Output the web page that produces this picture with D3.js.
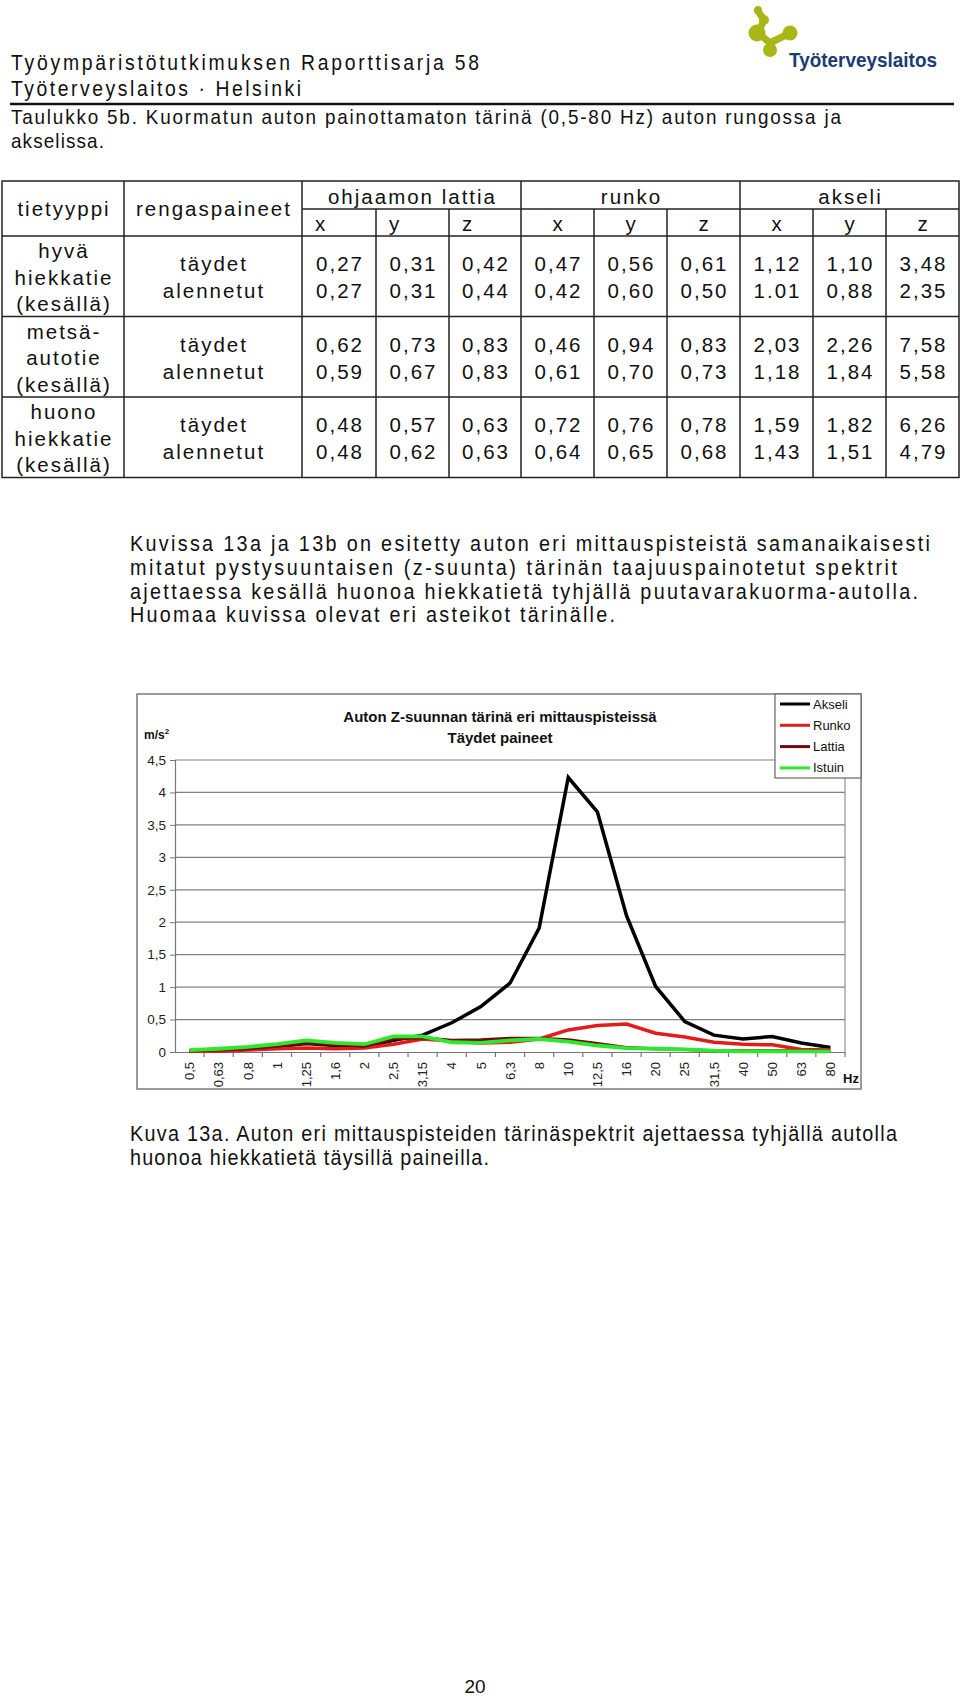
<!DOCTYPE html>
<html><head><meta charset="utf-8">
<script src="https://cdn.jsdelivr.net/npm/d3@7"></script>
<style>
html,body{margin:0;padding:0;background:#fff;}
svg{display:block;}
</style></head>
<body>
<script>
// ---------- DATA ----------
const freqLabels = ["0,5","0,63","0,8","1","1,25","1,6","2","2,5","3,15","4","5","6,3","8","10","12,5","16","20","25","31,5","40","50","63","80"];
const akseli = [0.02,0.03,0.05,0.08,0.13,0.10,0.08,0.18,0.26,0.45,0.70,1.06,1.91,4.23,3.70,2.10,1.01,0.47,0.26,0.20,0.24,0.14,0.07];
const runko  = [0.01,0.01,0.03,0.05,0.06,0.05,0.06,0.12,0.20,0.17,0.14,0.15,0.20,0.34,0.41,0.43,0.29,0.23,0.15,0.12,0.11,0.04,0.03];
const lattia = [0.02,0.03,0.05,0.09,0.14,0.11,0.09,0.20,0.22,0.18,0.19,0.21,0.21,0.19,0.13,0.07,0.05,0.04,0.02,0.02,0.02,0.02,0.02];
const istuin = [0.03,0.05,0.08,0.12,0.18,0.14,0.12,0.24,0.24,0.15,0.14,0.18,0.20,0.16,0.10,0.06,0.05,0.04,0.02,0.01,0.01,0.01,0.01];
const seriesNames = ["Akseli","Runko","Lattia","Istuin"];
const yTicks = [0,0.5,1,1.5,2,2.5,3,3.5,4,4.5];

const roadTypes = [["hyvä","hiekkatie","(kesällä)"],["metsä-","autotie","(kesällä)"],["huono","hiekkatie","(kesällä)"]];
const pressures = ["täydet","alennetut"];
const groups = ["ohjaamon lattia","runko","akseli"];
const axesLabels = ["x","y","z"];
// each row: 9 columns (lattia x,y,z, runko x,y,z, akseli x,y,z), [täydet, alennetut]
const tableRows = [
  [["0,27","0,27"],["0,31","0,31"],["0,42","0,44"],["0,47","0,42"],["0,56","0,60"],["0,61","0,50"],["1,12","1.01"],["1,10","0,88"],["3,48","2,35"]],
  [["0,62","0,59"],["0,73","0,67"],["0,83","0,83"],["0,46","0,61"],["0,94","0,70"],["0,83","0,73"],["2,03","1,18"],["2,26","1,84"],["7,58","5,58"]],
  [["0,48","0,48"],["0,57","0,62"],["0,63","0,63"],["0,72","0,64"],["0,76","0,65"],["0,78","0,68"],["1,59","1,43"],["1,82","1,51"],["6,26","4,79"]]
];

const paragraph = [
  "Kuvissa 13a ja 13b on esitetty auton eri mittauspisteistä samanaikaisesti",
  "mitatut pystysuuntaisen (z-suunta) tärinän taajuuspainotetut spektrit",
  "ajettaessa kesällä huonoa hiekkatietä tyhjällä puutavarakuorma-autolla.",
  "Huomaa kuvissa olevat eri asteikot tärinälle."
];
const caption = [
  "Kuva 13a. Auton eri mittauspisteiden tärinäspektrit ajettaessa tyhjällä autolla",
  "huonoa hiekkatietä täysillä paineilla."
];

// ---------- DRAW ----------
const W = 960, H = 1699;
const svg = d3.select("body").append("svg").attr("width", W).attr("height", H)
  .style("font-family", "'Liberation Sans', Arial, Helvetica, sans-serif");

// narrow text (glyphs compressed horizontally, spacing fills the width)
function line(t, x, y, size, len, opts = {}) {
  const sx = opts.sx || 0.9;
  const g = svg.append("g").attr("transform", `translate(${x},${y}) scale(${sx},1)`);
  const el = g.append("text").attr("x", 0).attr("y", 0).attr("font-size", size)
    .attr("fill", opts.fill || "#111").text(t);
  if (len) el.attr("textLength", len / sx).attr("lengthAdjust", opts.adj || "spacing");
  if (opts.weight) el.attr("font-weight", opts.weight);
  return el;
}

// Header
line("Työympäristötutkimuksen Raporttisarja 58", 11, 70, 22, 468, {sx: 0.88});
line("Työterveyslaitos · Helsinki", 11, 96, 22, 290, {sx: 0.88});
svg.append("line").attr("x1", 10).attr("x2", 954).attr("y1", 104).attr("y2", 104)
  .attr("stroke", "#111").attr("stroke-width", 2.5);
line("Taulukko 5b. Kuormatun auton painottamaton tärinä (0,5-80 Hz) auton rungossa ja", 11, 124, 21, 830);
line("akselissa.", 11, 148, 21, 93);

// Logo
const logoC = "#a8b718";
const lg = svg.append("g");
lg.append("path").attr("d", "M758,11 L764,20 L758,33 L770,43 L790,33 M770,43 L770,50")
  .attr("fill", "none").attr("stroke", logoC).attr("stroke-width", 7).attr("stroke-linecap", "round").attr("stroke-linejoin", "round");
[[758,10,4],[764,20,5],[757,33,8.5],[790,33,7.5],[770,50,7]].forEach(c =>
  lg.append("circle").attr("cx", c[0]).attr("cy", c[1]).attr("r", c[2]).attr("fill", logoC));
line("Työterveyslaitos", 789, 67, 21, 148, {fill: "#1c3b74", weight: "bold", sx: 0.9, adj: "spacingAndGlyphs"});

// Table
const colX = [2,124,302,376,449,521,594,667,740,813,886,959];
const tTop = 181, tGroup = 209, tHead = 236, rowH = 80.5;
const tBottom = tHead + rowH * 3;
const tg = svg.append("g").attr("stroke", "#222").attr("stroke-width", 1.5);
tg.append("rect").attr("x", colX[0]).attr("y", tTop).attr("width", colX[11] - colX[0]).attr("height", tBottom - tTop).attr("fill", "none");
[1,2,5,8].forEach(i => tg.append("line").attr("x1", colX[i]).attr("x2", colX[i]).attr("y1", tTop).attr("y2", tBottom));
[3,4,6,7,9,10].forEach(i => tg.append("line").attr("x1", colX[i]).attr("x2", colX[i]).attr("y1", tGroup).attr("y2", tBottom));
tg.append("line").attr("x1", colX[2]).attr("x2", colX[11]).attr("y1", tGroup).attr("y2", tGroup);
for (let r = 0; r < 3; r++) {
  const y = tHead + r * rowH;
  tg.append("line").attr("x1", colX[0]).attr("x2", colX[11]).attr("y1", y).attr("y2", y);
}
const tt = svg.append("g").attr("font-size", 20.5).attr("fill", "#111").style("letter-spacing", "2px");
function tcell(t, x, y, anchor = "middle") {
  tt.append("text").attr("x", x).attr("y", y).attr("text-anchor", anchor).text(t);
}
tcell("tietyyppi", (colX[0] + colX[1]) / 2 + 1, 216);
tcell("rengaspaineet", (colX[1] + colX[2]) / 2 + 1, 216);
groups.forEach((g, i) => tcell(g, (colX[2 + i * 3] + colX[5 + i * 3]) / 2 + 1, 204));
for (let c = 0; c < 9; c++) {
  if (c < 3) tcell(axesLabels[c % 3], colX[2 + c] + 13, 231, "start");
  else tcell(axesLabels[c % 3], (colX[2 + c] + colX[3 + c]) / 2 + 1, 231);
}
roadTypes.forEach((lines, r) => {
  const y0 = tHead + r * rowH;
  lines.forEach((t, k) => tcell(t, (colX[0] + colX[1]) / 2 + 1, y0 + 22 + k * 26.5));
  pressures.forEach((p, k) => tcell(p, (colX[1] + colX[2]) / 2 + 1, y0 + 35 + k * 27));
  tableRows[r].forEach((vals, c) => vals.forEach((v, k) =>
    tcell(v, (colX[2 + c] + colX[3 + c]) / 2 + 1, y0 + 35 + k * 27)));
});

// Paragraph
const paraLens = [800, 767, 788, 485];
paragraph.forEach((t, i) => line(t, 130, 551 + i * 23.8, 22, paraLens[i]));

// ---------- CHART ----------
const plot = {left: 175, right: 845, top: 760, bottom: 1052};
svg.append("rect").attr("x", 137).attr("y", 694).attr("width", 724).attr("height", 395)
  .attr("fill", "#fff").attr("stroke", "#7a7a7a").attr("stroke-width", 1.5);

const x = d3.scaleBand().domain(freqLabels).range([plot.left, plot.right]).padding(0);
const y = d3.scaleLinear().domain([0, 4.5]).range([plot.bottom, plot.top]);

// gridlines
svg.append("g").selectAll("line").data(yTicks.filter(d => d > 0)).join("line")
  .attr("x1", plot.left).attr("x2", plot.right).attr("y1", d => y(d)).attr("y2", d => y(d))
  .attr("stroke", "#808080").attr("stroke-width", 1.2);
svg.append("line").attr("x1", plot.right).attr("x2", plot.right).attr("y1", plot.top).attr("y2", plot.bottom)
  .attr("stroke", "#909090").attr("stroke-width", 1.2);

// y axis
const yAxis = svg.append("g").attr("transform", `translate(${plot.left},0)`)
  .call(d3.axisLeft(y).tickValues(yTicks).tickSize(5).tickPadding(4)
    .tickFormat(d => String(d).replace(".", ",")));
yAxis.select(".domain").attr("stroke", "#777").attr("stroke-width", 1.2);
yAxis.selectAll(".tick line").attr("stroke", "#777");
yAxis.selectAll(".tick text").attr("font-size", 13.5).attr("fill", "#222")
  .attr("font-family", "'Liberation Sans', Arial, sans-serif");

// x axis
const xAxis = svg.append("g").attr("transform", `translate(0,${plot.bottom})`)
  .call(d3.axisBottom(x).tickSize(0).tickFormat(d => d));
xAxis.select(".domain").attr("stroke", "#777").attr("stroke-width", 1.2);
xAxis.selectAll(".tick text").attr("font-size", 13).attr("fill", "#222")
  .attr("font-family", "'Liberation Sans', Arial, sans-serif")
  .attr("text-anchor", "end").attr("transform", "translate(0,10) rotate(-90)")
  .attr("x", 0).attr("y", 0).attr("dy", "0.36em");
// boundary ticks
svg.append("g").selectAll("line").data(freqLabels).join("line")
  .attr("x1", d => x(d) + x.bandwidth()).attr("x2", d => x(d) + x.bandwidth())
  .attr("y1", plot.bottom).attr("y2", plot.bottom + 5).attr("stroke", "#777").attr("stroke-width", 1.2);

// series
const seriesData = [akseli, runko, lattia, istuin];
const colors = ["#000000", "#e21b1b", "#6e0b0b", "#2ee82e"];
const widths = [3.5, 3.5, 3, 3.8];
const lineGen = d3.line().x((d, i) => x(freqLabels[i]) + x.bandwidth() / 2).y(d => y(d));
seriesData.forEach((s, k) => {
  svg.append("path").datum(s).attr("d", lineGen).attr("fill", "none")
    .attr("stroke", colors[k]).attr("stroke-width", widths[k]).attr("stroke-linejoin", "miter");
});

// titles
svg.append("text").attr("x", 500).attr("y", 722).attr("text-anchor", "middle").attr("font-size", 15)
  .attr("font-weight", "bold").attr("fill", "#111").text("Auton Z-suunnan tärinä eri mittauspisteissä");
svg.append("text").attr("x", 500).attr("y", 743).attr("text-anchor", "middle").attr("font-size", 15)
  .attr("font-weight", "bold").attr("fill", "#111").text("Täydet paineet");
const ms = svg.append("text").attr("x", 144).attr("y", 739).attr("font-size", 12).attr("font-weight", "bold").attr("fill", "#111");
ms.append("tspan").text("m/s");
ms.append("tspan").attr("font-size", 8).attr("dy", -5).text("2");
svg.append("text").attr("x", 843).attr("y", 1083).attr("font-size", 13).attr("font-weight", "bold").attr("fill", "#111").text("Hz");

// legend
const leg = svg.append("g");
leg.append("rect").attr("x", 775).attr("y", 694).attr("width", 86).attr("height", 84)
  .attr("fill", "#fff").attr("stroke", "#666").attr("stroke-width", 1.2);
seriesNames.forEach((n, i) => {
  const yy = 704 + i * 21.3;
  leg.append("line").attr("x1", 780).attr("x2", 810).attr("y1", yy).attr("y2", yy)
    .attr("stroke", colors[i]).attr("stroke-width", 3);
  leg.append("text").attr("x", 813).attr("y", yy + 4.5).attr("font-size", 13).attr("fill", "#111").text(n);
});

// caption
const capLens = [767, 359];
caption.forEach((t, i) => line(t, 130, 1141 + i * 24, 22, capLens[i]));

// page number
svg.append("text").attr("x", 475).attr("y", 1693).attr("text-anchor", "middle").attr("font-size", 19)
  .attr("fill", "#111").text("20");
</script>
</body></html>
